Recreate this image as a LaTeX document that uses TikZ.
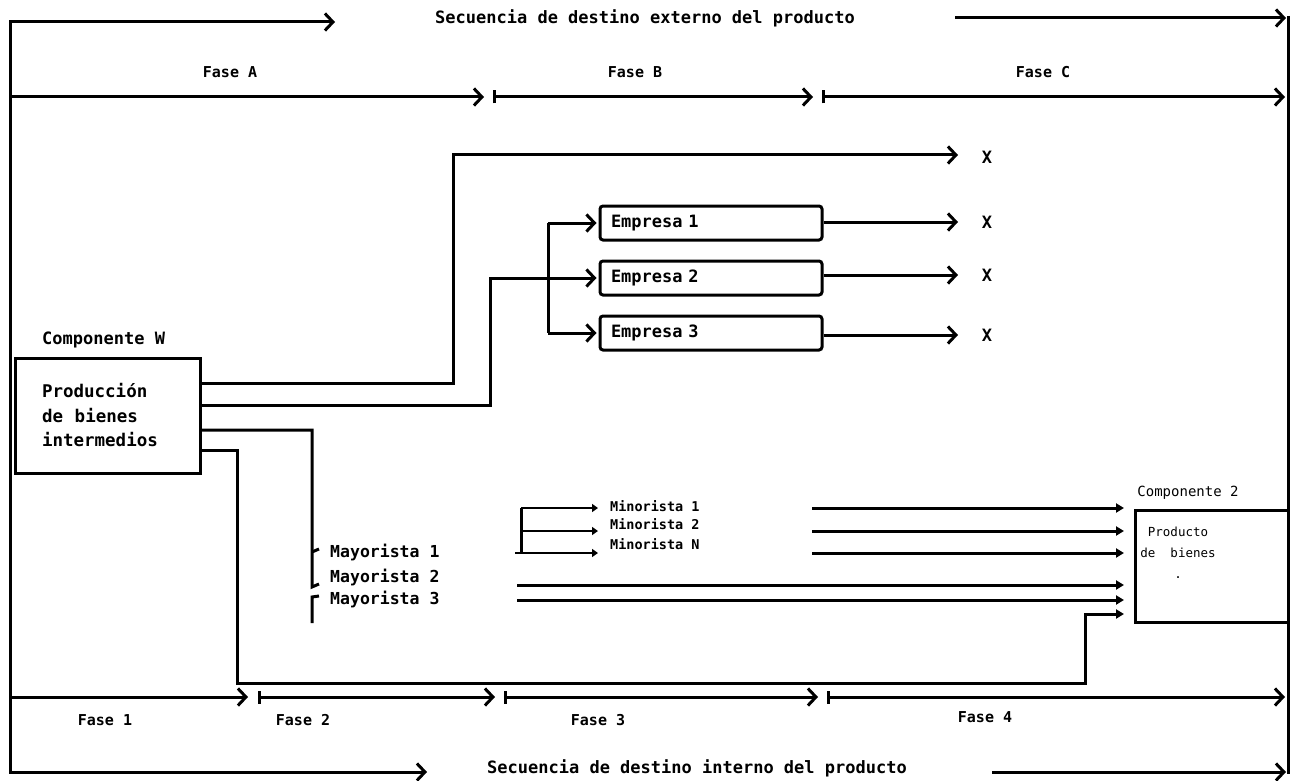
\documentclass[tikz,border=0pt]{standalone}
\usepackage{fontspec}
\newfontfamily\dmono{DejaVu Sans Mono}
\usetikzlibrary{arrows.meta}
\begin{document}
\begin{tikzpicture}[x=1pt,y=-1pt,
  ln/.style={line width=3pt},
  barb/.style={ln,-{Straight Barb[length=8pt,width=17pt,line width=3pt]}},
  phase/.style={ln,{Bar[width=13pt,line width=3pt]}-{Straight Barb[length=8pt,width=17pt,line width=3pt]}},
  fill arrow/.style={ln,-{Triangle[length=8pt,width=9pt]}},
  small arrow/.style={line width=2.4pt,-{Triangle[length=6pt,width=8pt]}},
  lbl/.style={font=\dmono\bfseries\fontsize{17}{17}\selectfont, inner sep=0pt},
  fase/.style={font=\dmono\bfseries\fontsize{15}{15}\selectfont, inner sep=0pt},
  maylbl/.style={font=\dmono\bfseries\fontsize{16.5}{16.5}\selectfont, inner sep=0pt, anchor=west},
  minlbl/.style={font=\dmono\bfseries\fontsize{13.5}{13.5}\selectfont, inner sep=0pt, anchor=west},
  thin lbl/.style={font=\dmono\fontsize{14}{14}\selectfont, inner sep=0pt},
  empbox/.style={draw, ln, rounded corners=3pt, text width=200pt, align=left, inner xsep=11pt,
    minimum height=34pt, font=\dmono\bfseries\fontsize{17}{17}\selectfont},
]
\useasboundingbox (0,0) rectangle (1301,781);

% outer frame
\coordinate (TL) at (10,22);
\coordinate (TLa) at (335,22);
\coordinate (BL) at (10,772);
\coordinate (BLa) at (427,772);
\coordinate (TRs) at (955,18);
\coordinate (TRa) at (1286,18);
\coordinate (TR) at (1288,16);
\coordinate (BRs) at (992,772);
\coordinate (BRa) at (1286,772);
\coordinate (BR) at (1288,774);
\draw[barb] (BL) |- (TLa);
\draw[barb] (TL) |- (BLa);
\draw[ln] (TR) -- (BR);
\draw[barb] (TRs) -- (TRa);
\draw[barb] (BRs) -- (BRa);

\node[lbl] (ext) at (645,18) {Secuencia de destino externo del producto};
\node[lbl] (int) at (697,768) {Secuencia de destino interno del producto};

% phases A-C
\coordinate (A0) at (10,97);
\coordinate (A1) at (484,97);
\coordinate (B0) at (493,97);
\coordinate (B1) at (813,97);
\coordinate (C0) at (822,97);
\coordinate (C1) at (1285,97);
\draw[barb] (A0) -- (A1);
\draw[phase] (B0) -- (B1);
\draw[phase] (C0) -- (C1);
\node[fase] (fA) at (230,72) {Fase A};
\node[fase] (fB) at (635,72) {Fase B};
\node[fase] (fC) at (1043,72) {Fase C};

% phases 1-4
\coordinate (P0) at (10,697);
\coordinate (P1) at (248,697);
\coordinate (Q0) at (258,697);
\coordinate (Q1) at (495,697);
\coordinate (R0) at (504,697);
\coordinate (R1) at (818,697);
\coordinate (S0) at (827,697);
\coordinate (S1) at (1285,697);
\draw[barb] (P0) -- (P1);
\draw[phase] (Q0) -- (Q1);
\draw[phase] (R0) -- (R1);
\draw[phase] (S0) -- (S1);
\node[fase] (f1) at (105,720) {Fase 1};
\node[fase] (f2) at (303,720) {Fase 2};
\node[fase] (f3) at (598,720) {Fase 3};
\node[fase] (f4) at (985,717) {Fase 4};

% component W
\node[lbl, anchor=west] (compW) at (42,340) {Componente W};
\node[draw, ln, minimum width=185pt, minimum height=115pt, text width=131pt, inner xsep=27pt,
  align=left, font=\dmono\bfseries\fontsize{17.5}{24.5}\selectfont] (W) at (107.5,415.5)
  {Producción\\de\ \ bienes\\intermedios};

% empresas
\node[empbox] (e1) at (711,223) {Empresa 1};
\node[empbox] (e2) at (711,278) {Empresa 2};
\node[empbox] (e3) at (711,333) {Empresa 3};

% X outcomes
\node[lbl] (x0) at (987,157) {X};
\node[lbl] (x1) at (987,222) {X};
\node[lbl] (x2) at (987,275) {X};
\node[lbl] (x3) at (987,335) {X};
\coordinate (xe0) at (958,155);
\coordinate (xe1) at (958,222);
\coordinate (xe2) at (958,275);
\coordinate (xe3) at (958,335);

% outlets of W
\coordinate (w1) at (200,383);
\coordinate (w2) at (200,405);
\coordinate (w3) at (200,430);
\coordinate (w4) at (200,450);
\coordinate (k1) at (453,155);
\coordinate (k2) at (490,278);
\draw[barb] (w1) -| (k1) -- (xe0);
\draw[barb, shorten >=2pt] (w2) -| (k2) -- (e2.west);
\coordinate (br1) at (548,223);
\coordinate (br3) at (548,333);
\draw[ln] (br1) -- (br3);
\draw[barb, shorten >=2pt] (br1) -- (e1.west);
\draw[barb, shorten >=2pt] (br3) -- (e3.west);
\draw[barb] (e1.east |- xe1) -- (xe1);
\draw[barb] (e2.east |- xe2) -- (xe2);
\draw[barb] (e3.east |- xe3) -- (xe3);

% mayoristas
\coordinate (m0) at (312,587);
\draw[ln] (w3) -| (m0) -- (319,584);
\draw[ln] (312,552) -- (319,549);
\draw[ln] (312,623) -- (312,597) -- (319,596);
\node[maylbl] (may1) at (330,552) {Mayorista 1};
\node[maylbl] (may2) at (330,577) {Mayorista 2};
\node[maylbl] (may3) at (330,599) {Mayorista 3};

% minoristas
\coordinate (n1) at (521,508);
\coordinate (n3) at (521,553);
\draw[ln] (n1) -- (n3);
\node[minlbl] (min1) at (610,506) {Minorista 1};
\node[minlbl] (min2) at (610,524) {Minorista 2};
\node[minlbl] (min3) at (610,544) {Minorista N};
\draw[small arrow] (n1) -- (598,508);
\draw[small arrow] (521,531) -- (598,531);
\draw[small arrow] (515,553) -- (598,553);

% component 2
\node[draw, ln, minimum width=153pt, minimum height=112pt, inner sep=0pt] (C2) at (1211.5,566) {};
\node[thin lbl] (comp2) at (1188,493) {Componente 2};
\node[align=center, inner sep=0pt, font=\dmono\fontsize{12.5}{21}\selectfont] (C2t) at (1178,553)
  {Producto\\de\ \ bienes\\.};

% arrows into component 2
\draw[fill arrow] (812,508) -- (1124,508);
\draw[fill arrow] (812,531) -- (1124,531);
\draw[fill arrow] (812,553) -- (1124,553);
\draw[fill arrow] (517,585) -- (1124,585);
\draw[fill arrow] (517,600) -- (1124,600);
\coordinate (k4) at (237,683);
\coordinate (k5) at (1085,614);
\draw[fill arrow] (w4) -| (k4) -| (k5) -- (1124,614);
\end{tikzpicture}
\end{document}
